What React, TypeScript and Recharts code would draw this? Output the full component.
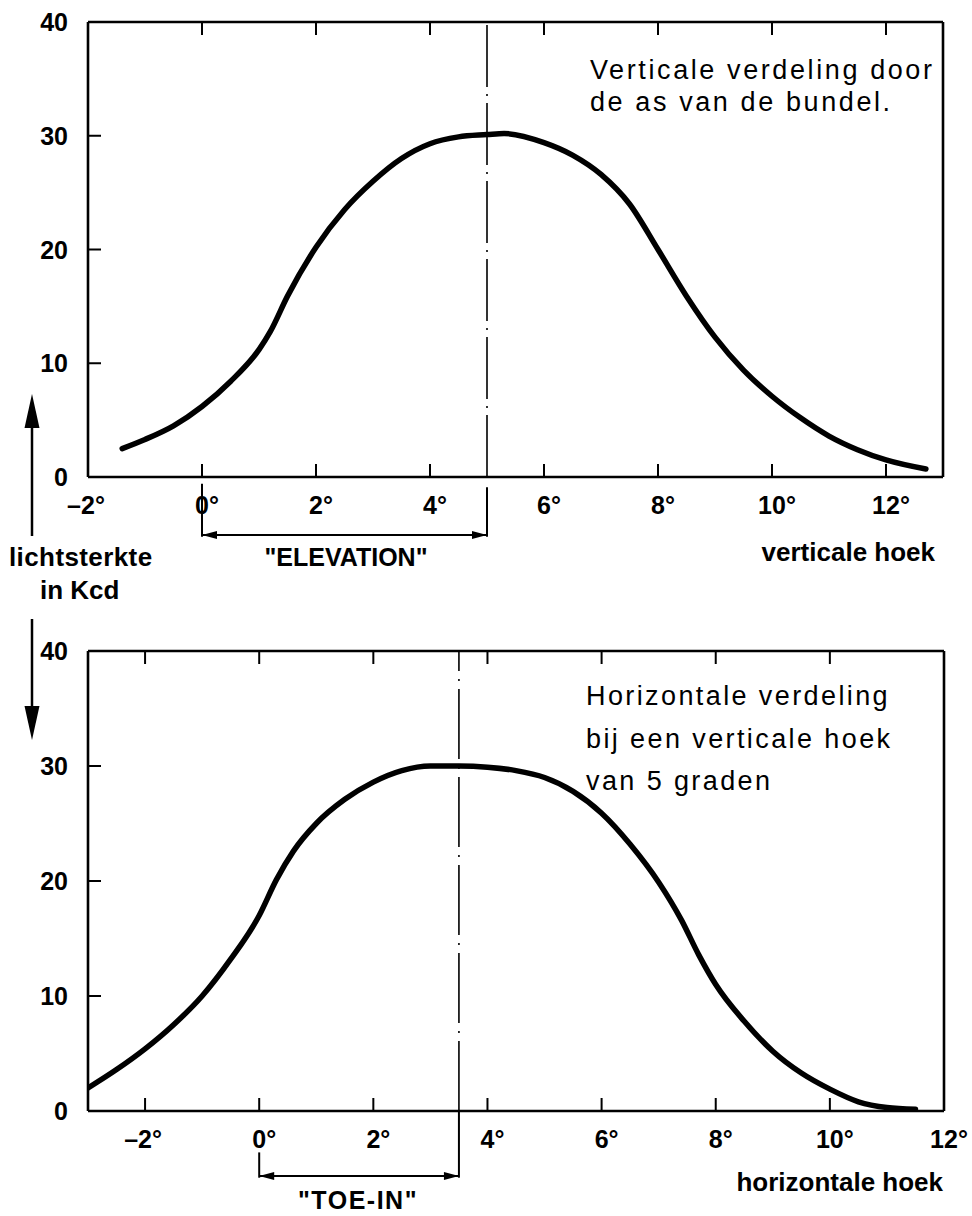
import { LineChart, Line, XAxis, YAxis, ReferenceLine } from "recharts";

const FONT = '"Liberation Sans", Arial, Helvetica, sans-serif';

// verticale verdeling door de as van de bundel
const vertAngles = [-1.4, -1, -0.5, 0, 0.5, 1, 1.2, 1.5, 2, 2.5, 3, 3.5, 4, 4.5, 5, 5.3, 6, 6.5, 7, 7.5, 8, 8.5, 9, 9.5, 10, 10.5, 11, 11.5, 12, 12.7];
const vertKcd = [2.5, 3.3, 4.5, 6.2, 8.4, 11.2, 12.8, 15.9, 20.2, 23.5, 26.0, 28.0, 29.3, 29.9, 30.1, 30.2, 29.4, 28.3, 26.6, 24.0, 20.0, 15.9, 12.3, 9.4, 7.1, 5.2, 3.6, 2.4, 1.5, 0.7];

// horizontale verdeling bij 5 graden verticaal
const horAngles = [-3, -2.5, -2, -1.5, -1, -0.5, 0, 0.3, 0.6, 1, 1.5, 2, 2.5, 3, 3.5, 4, 4.5, 5, 5.5, 6, 6.5, 7, 7.4, 7.7, 8, 8.5, 9, 9.5, 10, 10.5, 11, 11.5];
const horKcd = [2.0, 3.6, 5.4, 7.5, 10.0, 13.2, 17.0, 20.1, 22.6, 25.0, 27.1, 28.6, 29.6, 30.0, 30.0, 29.9, 29.6, 29.0, 27.8, 25.9, 23.2, 19.9, 16.6, 13.6, 11.0, 7.8, 5.2, 3.3, 1.9, 0.8, 0.3, 0.15];

const vertDomain: [number, number] = [-2, 13];
const horDomain: [number, number] = [-3, 12];
const angleTicks = [-2, 0, 2, 4, 6, 8, 10, 12];
const kcdTicks = [0, 10, 20, 30, 40];
const innerKcdTicks = [10, 20, 30];

const elevation = 5; // graden
const toeIn = 3.5; // graden

const vertData = vertAngles.map((x, i) => ({ x, v: vertKcd[i] }));
const horData = horAngles.map((x, i) => ({ x, v: horKcd[i] }));

const TICK = 13;
const degLabel = (v: number) => (v < 0 ? "\u2013" + Math.abs(v) : String(v)) + "\u00b0";

const bottomTick = (dom: [number, number]) => (p: any) => {
  const v = p.payload.value;
  const edge = v <= dom[0] || v >= dom[1];
  return (
    <g>
      {!edge && <line x1={p.x} x2={p.x} y1={p.y} y2={p.y - TICK} stroke="#000" strokeWidth={2} />}
      <text x={p.x + (v < 0 ? -2 : 5)} y={p.y + 37} textAnchor="middle" fontFamily={FONT} fontWeight="bold" fontSize={25} fill="#000">
        {degLabel(v)}
      </text>
    </g>
  );
};

const topTick = (dom: [number, number]) => (p: any) => {
  const v = p.payload.value;
  const edge = v <= dom[0] || v >= dom[1];
  return <g>{!edge && <line x1={p.x} x2={p.x} y1={p.y} y2={p.y + TICK} stroke="#000" strokeWidth={2} />}</g>;
};

const leftTick = (p: any) => {
  const v = p.payload.value;
  return (
    <g>
      {innerKcdTicks.includes(v) && <line x1={p.x} x2={p.x + TICK} y1={p.y} y2={p.y} stroke="#000" strokeWidth={2} />}
      <text x={p.x - 20} y={p.y + 9} textAnchor="end" fontFamily={FONT} fontWeight="bold" fontSize={25} fill="#000">
        {v}
      </text>
    </g>
  );
};

const rightTick = (p: any) => (
  <g>
    <line x1={p.x} x2={p.x - TICK} y1={p.y} y2={p.y} stroke="#000" strokeWidth={2} />
  </g>
);

const ArrowLine = (p: any) => {
  const { x1, y1, x2, y2 } = p;
  const L = 15;
  const W = 4;
  return (
    <g>
      <line x1={x1} y1={y1} x2={x2} y2={y2} stroke="#000" strokeWidth={2} />
      <polygon points={`${x1},${y1} ${x1 + L},${y1 - W} ${x1 + L},${y1 + W}`} fill="#000" />
      <polygon points={`${x2},${y2} ${x2 - L},${y2 - W} ${x2 - L},${y2 + W}`} fill="#000" />
    </g>
  );
};

const text = (extra: any) => ({
  position: "absolute" as const,
  whiteSpace: "nowrap" as const,
  fontFamily: FONT,
  color: "#000",
  ...extra,
});

function Panel({
  data,
  dom,
  height,
  margin,
  marker,
  dash,
  bracketTop,
  bracketRightTop,
  bracketY,
}: {
  data: { x: number; v: number }[];
  dom: [number, number];
  height: number;
  margin: { top: number; right: number; bottom: number; left: number };
  marker: number;
  dash: string;
  bracketTop: number;
  bracketRightTop: number;
  bracketY: number;
}) {
  return (
    <LineChart width={972} height={height} data={data} margin={margin}>
      <XAxis
        dataKey="x"
        type="number"
        domain={dom}
        ticks={angleTicks}
        interval={0}
        allowDataOverflow
        height={40}
        tickSize={0}
        tickMargin={0}
        tickLine={false}
        axisLine={{ stroke: "#000", strokeWidth: 2.6 }}
        tick={bottomTick(dom)}
      />
      <XAxis
        xAxisId="t"
        orientation="top"
        dataKey="x"
        type="number"
        domain={dom}
        ticks={angleTicks}
        interval={0}
        allowDataOverflow
        height={10}
        tickSize={0}
        tickMargin={0}
        tickLine={false}
        axisLine={{ stroke: "#000", strokeWidth: 2.6 }}
        tick={topTick(dom)}
      />
      <YAxis
        type="number"
        domain={[0, 40]}
        ticks={kcdTicks}
        interval={0}
        width={60}
        tickSize={0}
        tickMargin={0}
        tickLine={false}
        axisLine={{ stroke: "#000", strokeWidth: 2.6 }}
        tick={leftTick}
      />
      <YAxis
        yAxisId="r"
        orientation="right"
        type="number"
        domain={[0, 40]}
        ticks={innerKcdTicks}
        interval={0}
        width={10}
        tickSize={0}
        tickMargin={0}
        tickLine={false}
        axisLine={{ stroke: "#000", strokeWidth: 2.6 }}
        tick={rightTick}
      />
      <ReferenceLine x={marker} stroke="#000" strokeWidth={1.6} strokeDasharray={dash} ifOverflow="visible" />
      <ReferenceLine
        segment={[{ x: 0, y: bracketTop }, { x: 0, y: bracketY - 0.15 }]}
        stroke="#000"
        strokeWidth={2}
        ifOverflow="visible"
      />
      <ReferenceLine
        segment={[{ x: marker, y: bracketRightTop }, { x: marker, y: bracketY - 0.15 }]}
        stroke="#000"
        strokeWidth={2}
        ifOverflow="visible"
      />
      <ReferenceLine
        segment={[{ x: 0, y: bracketY }, { x: marker, y: bracketY }]}
        ifOverflow="visible"
        shape={ArrowLine}
      />
      <Line
        dataKey="v"
        type="monotone"
        stroke="#000"
        strokeWidth={5.5}
        strokeLinecap="round"
        dot={false}
        activeDot={false}
        isAnimationActive={false}
      />
    </LineChart>
  );
}

export default function App() {
  return (
    <div style={{ position: "absolute", left: 0, top: 0, width: 972, height: 1216, background: "#fff" }}>
      <div style={{ position: "absolute", left: 0, top: 0 }}>
        <Panel
          data={vertData}
          dom={vertDomain}
          height={600}
          margin={{ top: 12, right: 19, bottom: 83, left: 28 }}
          marker={elevation}
          dash="62 7 2 7"
          bracketTop={-0.6}
          bracketRightTop={-0.9}
          bracketY={-5.1}
        />
      </div>
      <div style={{ position: "absolute", left: 0, top: 600 }}>
        <Panel
          data={horData}
          dom={horDomain}
          height={616}
          margin={{ top: 41, right: 18, bottom: 65, left: 28 }}
          marker={toeIn}
          dash="70 8 2 8"
          bracketTop={-3.6}
          bracketRightTop={0}
          bracketY={-5.65}
        />
      </div>

      <div style={text({ left: 590, top: 54, fontSize: 27, lineHeight: "32px", letterSpacing: 2.6 })}>
        Verticale verdeling door
        <br />
        de as van de bundel.
      </div>
      <div style={text({ left: 586, top: 675, fontSize: 27, lineHeight: "42.5px", letterSpacing: 2.4 })}>
        Horizontale verdeling
        <br />
        bij een verticale hoek
        <br />
        van 5 graden
      </div>

      <div style={text({ right: 37, top: 537, fontSize: 26, fontWeight: "bold", lineHeight: "30px" })}>verticale hoek</div>
      <div style={text({ right: 29, top: 1167, fontSize: 26, fontWeight: "bold", lineHeight: "30px" })}>horizontale hoek</div>
      <div style={text({ left: 346, top: 542, transform: "translateX(-50%)", fontSize: 25, fontWeight: "bold", lineHeight: "30px" })}>
        "ELEVATION"
      </div>
      <div style={text({ left: 358, top: 1185, transform: "translateX(-50%)", fontSize: 25, fontWeight: "bold", lineHeight: "30px", letterSpacing: 1.5 })}>
        "TOE-IN"
      </div>
      <div style={text({ left: 9, top: 542, fontSize: 26, fontWeight: "bold", lineHeight: "30px", letterSpacing: 0.4 })}>lichtsterkte</div>
      <div style={text({ left: 40, top: 575, fontSize: 26, fontWeight: "bold", lineHeight: "30px" })}>in Kcd</div>

      <svg width={70} height={1216} style={{ position: "absolute", left: 0, top: 0, pointerEvents: "none" }}>
        <line x1={32} x2={32} y1={536} y2={420} stroke="#000" strokeWidth={2.5} />
        <polygon points="32,394 24.5,428 39.5,428" fill="#000" />
        <line x1={32} x2={32} y1={619} y2={712} stroke="#000" strokeWidth={2.5} />
        <polygon points="32,740 24.5,706 39.5,706" fill="#000" />
      </svg>
    </div>
  );
}
